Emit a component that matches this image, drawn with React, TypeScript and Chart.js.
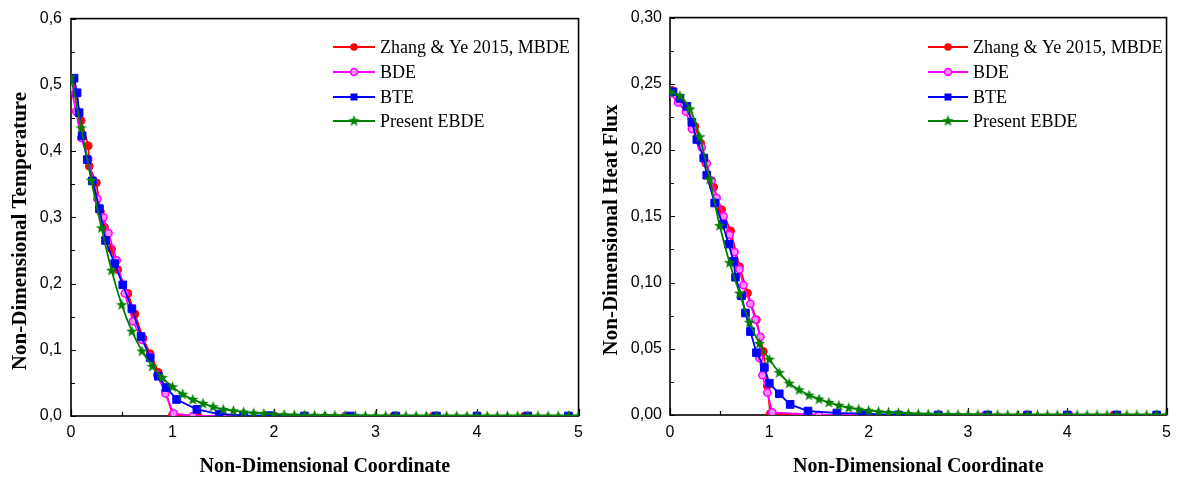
import React, { useEffect, useRef } from 'react';
import { Chart, registerables } from 'chart.js';

Chart.register(...registerables);

// ---------------- DATA ----------------
const SERIES_NAMES = ['Zhang & Ye 2015, MBDE', 'BDE', 'BTE', 'Present EBDE'];

const X_TICKS = [0, 1, 2, 3, 4, 5];
const X_MINOR = [0.5, 1.5, 2.5, 3.5, 4.5];

// Left panel: Non-Dimensional Temperature
const TEMP_Y_TICKS = [0, 0.1, 0.2, 0.3, 0.4, 0.5, 0.6];
const TEMP_Y_MINOR = [0.05, 0.15, 0.25, 0.35, 0.45, 0.55];

const tempMbdeX = [0.02, 0.1, 0.17, 0.18, 0.25, 0.29, 0.33, 0.4, 0.46, 0.56, 0.63, 0.71, 0.78, 0.86, 0.93, 1.0, 1.25, 1.5, 2.0, 2.3, 2.72, 3.18, 3.57, 4.0, 4.47, 4.91];
const tempMbdeY = [0.509, 0.446, 0.408, 0.377, 0.352, 0.309, 0.285, 0.252, 0.221, 0.185, 0.154, 0.117, 0.094, 0.066, 0.038, 0.002, 0, 0, 0, 0, 0, 0, 0, 0, 0, 0];

const tempBdeX = [0.0, 0.05, 0.1, 0.17, 0.22, 0.26, 0.32, 0.37, 0.45, 0.53, 0.61, 0.7, 0.78, 0.85, 0.93, 1.01, 1.2, 1.5, 2.0, 2.3, 2.7, 3.2, 3.6, 4.0, 4.5, 4.9];
const tempBdeY = [0.495, 0.46, 0.42, 0.388, 0.355, 0.328, 0.3, 0.276, 0.235, 0.185, 0.143, 0.115, 0.09, 0.062, 0.034, 0.004, 0, 0, 0, 0, 0, 0, 0, 0, 0, 0];

const tempBteX = [0.03, 0.06, 0.08, 0.11, 0.16, 0.21, 0.28, 0.34, 0.43, 0.51, 0.6, 0.69, 0.78, 0.86, 0.94, 1.04, 1.24, 1.46, 1.7, 1.95, 2.3, 2.75, 3.2, 3.6, 4.0, 4.5, 4.9];
const tempBteY = [0.51, 0.488, 0.458, 0.423, 0.387, 0.355, 0.313, 0.265, 0.23, 0.198, 0.162, 0.12, 0.088, 0.06, 0.043, 0.025, 0.01, 0.003, 0.001, 0.0005, 0, 0, 0, 0, 0, 0, 0];

const ebdeX = [0, 0.1, 0.2, 0.3, 0.4, 0.5, 0.6, 0.7, 0.8, 0.9, 1.0, 1.1, 1.2, 1.3, 1.4, 1.5, 1.6, 1.7, 1.8, 1.9, 2.0, 2.1, 2.2, 2.3, 2.4, 2.5, 2.6, 2.7, 2.8, 2.9, 3.0, 3.1, 3.2, 3.3, 3.4, 3.5, 3.6, 3.7, 3.8, 3.9, 4.0, 4.1, 4.2, 4.3, 4.4, 4.5, 4.6, 4.7, 4.8, 4.9, 5.0];
const tempEbdeY = [0.512, 0.435, 0.356, 0.284, 0.22, 0.168, 0.128, 0.098, 0.075, 0.058, 0.044, 0.033, 0.025, 0.019, 0.014, 0.01, 0.008, 0.006, 0.0045, 0.0035, 0.0025, 0.002, 0.0015, 0.0012, 0.001, 0.0008, 0.0006, 0.0005, 0.0004, 0.0003, 0.0002, 0.0002, 0.0001, 0.0001, 0.0001, 0, 0, 0, 0, 0, 0, 0, 0, 0, 0, 0, 0, 0, 0, 0, 0];

// Right panel: Non-Dimensional Heat Flux
const FLUX_Y_TICKS = [0, 0.05, 0.1, 0.15, 0.2, 0.25, 0.3];
const FLUX_Y_MINOR = [0.025, 0.075, 0.125, 0.175, 0.225, 0.275];

const fluxMbdeX = [0.02, 0.1, 0.17, 0.25, 0.31, 0.36, 0.44, 0.52, 0.61, 0.7, 0.78, 0.87, 0.94, 0.98, 1.01, 1.5, 2.0, 2.7, 3.2, 3.59, 4.0, 4.47, 4.9];
const fluxMbdeY = [0.245, 0.238, 0.232, 0.218, 0.205, 0.19, 0.172, 0.155, 0.139, 0.112, 0.092, 0.072, 0.048, 0.022, 0.001, 0, 0, 0, 0, 0, 0, 0, 0];

const fluxBdeX = [0.0, 0.08, 0.16, 0.22, 0.28, 0.32, 0.37, 0.42, 0.47, 0.54, 0.6, 0.65, 0.7, 0.74, 0.81, 0.86, 0.91, 0.9, 0.93, 0.98, 1.03, 1.5, 2.0, 2.71, 3.17, 3.6, 4.02, 4.5, 4.9];
const fluxBdeY = [0.243, 0.236, 0.229, 0.216, 0.208, 0.202, 0.19, 0.177, 0.164, 0.15, 0.136, 0.123, 0.11, 0.098, 0.084, 0.072, 0.059, 0.043, 0.03, 0.017, 0.002, 0, 0, 0, 0, 0, 0, 0, 0];

const fluxBteX = [0.03, 0.1, 0.17, 0.22, 0.27, 0.34, 0.37, 0.45, 0.53, 0.59, 0.64, 0.66, 0.72, 0.76, 0.81, 0.87, 0.95, 1.0, 1.1, 1.21, 1.39, 1.68, 1.94, 2.3, 2.7, 3.2, 3.6, 4.0, 4.5, 4.9];
const fluxBteY = [0.244, 0.239, 0.233, 0.221, 0.208, 0.194, 0.181, 0.16, 0.144, 0.129, 0.116, 0.104, 0.09, 0.077, 0.063, 0.047, 0.036, 0.024, 0.016, 0.008, 0.003, 0.0015, 0.001, 0, 0, 0, 0, 0, 0, 0];

const fluxEbdeY = [0.244, 0.241, 0.231, 0.21, 0.178, 0.143, 0.115, 0.092, 0.07, 0.054, 0.042, 0.032, 0.024, 0.019, 0.015, 0.012, 0.0095, 0.0072, 0.0055, 0.0043, 0.0033, 0.0025, 0.0019, 0.0015, 0.0011, 0.0008, 0.0006, 0.0005, 0.0004, 0.0003, 0.0002, 0.0002, 0.0001, 0.0001, 0, 0, 0, 0, 0, 0, 0, 0, 0, 0, 0, 0, 0, 0, 0, 0, 0];

// ---------------- STYLE ----------------
const RED = '#ff0000';
const MAGENTA = '#ff00ff';
const MAGENTA_FILL = '#ff88ff';
const BLUE = '#0000ff';
const GREEN = '#008000';
const SERIF = '"Liberation Serif", "Times New Roman", Times, serif';
const SANS = '"Liberation Sans", Arial, Helvetica, sans-serif';

function makeStar(color: string): HTMLCanvasElement {
  const c = document.createElement('canvas');
  c.width = 13;
  c.height = 13;
  const g = c.getContext('2d')!;
  const cx = 6.5, cy = 6.8, ro = 6.0, ri = 2.5;
  g.beginPath();
  for (let i = 0; i < 10; i++) {
    const r = i % 2 === 0 ? ro : ri;
    const a = -Math.PI / 2 + (i * Math.PI) / 5;
    const px = cx + r * Math.cos(a);
    const py = cy + r * Math.sin(a);
    if (i === 0) g.moveTo(px, py);
    else g.lineTo(px, py);
  }
  g.closePath();
  g.fillStyle = color;
  g.fill();
  return c;
}

const pts = (xs: number[], ys: number[]) => xs.map((x, i) => ({ x, y: ys[i] }));

type PanelCfg = {
  width: number;
  left: number;
  area: { top: number; right: number; yWidth: number; xHeight: number };
  yMax: number;
  yStep: number;
  yDecimals: number;
  yTicks: number[];
  yMinor: number[];
  yPad: number;
  xPad: number;
  yTitle: string;
  yTitleX: number;
  yTitleY: number;
  legend: { x0: number; x1: number; tx: number; rows: number[] };
  series: { x: number[]; y: number[] }[];
};

function PanelChart({ cfg }: { cfg: PanelCfg }) {
  const ref = useRef<HTMLCanvasElement>(null);
  useEffect(() => {
    const star = makeStar(GREEN);
    const [mb, bd, bt, eb] = cfg.series;

    const decor = {
      id: 'decor',
      beforeDatasetsDraw(chart: any) {
        const { ctx, chartArea: a, scales } = chart;
        const x = scales.x, y = scales.y;
        ctx.save();
        ctx.strokeStyle = '#000';
        ctx.lineWidth = 1.6;
        ctx.strokeRect(a.left, a.top, a.right - a.left, a.bottom - a.top);
        ctx.lineWidth = 1.2;
        ctx.beginPath();
        X_TICKS.forEach((v) => {
          const p = Math.round(x.getPixelForValue(v)) + 0.5;
          ctx.moveTo(p, a.bottom);
          ctx.lineTo(p, a.bottom - 7);
        });
        X_MINOR.forEach((v) => {
          const p = Math.round(x.getPixelForValue(v)) + 0.5;
          ctx.moveTo(p, a.bottom);
          ctx.lineTo(p, a.bottom - 4);
        });
        cfg.yTicks.forEach((v) => {
          const p = Math.round(y.getPixelForValue(v)) + 0.5;
          ctx.moveTo(a.left, p);
          ctx.lineTo(a.left + 5, p);
        });
        cfg.yMinor.forEach((v) => {
          const p = Math.round(y.getPixelForValue(v)) + 0.5;
          ctx.moveTo(a.left, p);
          ctx.lineTo(a.left + 4, p);
        });
        ctx.stroke();
        ctx.restore();
      },
      afterDraw(chart: any) {
        const { ctx, chartArea: a } = chart;
        ctx.save();
        // axis titles
        ctx.fillStyle = '#000';
        ctx.font = `bold 20px ${SERIF}`;
        ctx.textAlign = 'center';
        ctx.textBaseline = 'alphabetic';
        ctx.fillText('Non-Dimensional Coordinate', (a.left + a.right) / 2, 472);
        ctx.save();
        ctx.font = `bold 21px ${SERIF}`;
        ctx.translate(cfg.yTitleX, cfg.yTitleY);
        ctx.rotate(-Math.PI / 2);
        ctx.fillText(cfg.yTitle, 0, 0);
        ctx.restore();
        // legend
        const L = cfg.legend;
        const mid = (L.x0 + L.x1) / 2;
        const colors = [RED, MAGENTA, BLUE, GREEN];
        SERIES_NAMES.forEach((name, i) => {
          const yy = L.rows[i];
          ctx.strokeStyle = colors[i];
          ctx.lineWidth = 1.8;
          ctx.beginPath();
          ctx.moveTo(L.x0, yy);
          ctx.lineTo(L.x1, yy);
          ctx.stroke();
          if (i === 0) {
            ctx.fillStyle = RED;
            ctx.beginPath();
            ctx.arc(mid, yy, 3.8, 0, Math.PI * 2);
            ctx.fill();
          } else if (i === 1) {
            ctx.fillStyle = MAGENTA_FILL;
            ctx.strokeStyle = MAGENTA;
            ctx.lineWidth = 1.5;
            ctx.beginPath();
            ctx.arc(mid, yy, 3.5, 0, Math.PI * 2);
            ctx.fill();
            ctx.stroke();
          } else if (i === 2) {
            ctx.fillStyle = BLUE;
            ctx.fillRect(mid - 3.5, yy - 3.5, 7, 7);
          } else {
            ctx.drawImage(star, mid - 6.5, yy - 6.8);
          }
          ctx.fillStyle = '#000';
          ctx.font = `18px ${SERIF}`;
          ctx.textAlign = 'left';
          ctx.textBaseline = 'middle';
          ctx.fillText(name, L.tx, yy + 1);
        });
        ctx.restore();
      },
    };

    const chart = new Chart(ref.current!, {
      type: 'line',
      data: {
        datasets: [
          {
            label: SERIES_NAMES[0],
            data: pts(mb.x, mb.y),
            borderColor: RED,
            backgroundColor: RED,
            pointBackgroundColor: RED,
            pointBorderColor: RED,
            pointRadius: 3.9,
            pointBorderWidth: 1,
            borderWidth: 1.8,
            tension: 0,
            order: 3,
          },
          {
            label: SERIES_NAMES[1],
            data: pts(bd.x, bd.y),
            borderColor: MAGENTA,
            backgroundColor: MAGENTA,
            pointBackgroundColor: MAGENTA_FILL,
            pointBorderColor: MAGENTA,
            pointRadius: 3.6,
            pointBorderWidth: 1.5,
            borderWidth: 1.8,
            tension: 0,
            order: 2,
          },
          {
            label: SERIES_NAMES[2],
            data: pts(bt.x, bt.y),
            borderColor: BLUE,
            backgroundColor: BLUE,
            pointBackgroundColor: BLUE,
            pointBorderColor: BLUE,
            pointStyle: 'rect',
            pointRadius: 5.4,
            pointBorderWidth: 1,
            borderWidth: 1.8,
            tension: 0,
            order: 1,
          },
          {
            label: SERIES_NAMES[3],
            data: pts(eb.x, eb.y),
            borderColor: GREEN,
            backgroundColor: GREEN,
            pointStyle: star as any,
            pointRadius: 5,
            borderWidth: 1.8,
            cubicInterpolationMode: 'monotone',
            order: 0,
          },
        ] as any,
      },
      options: {
        animation: false,
        responsive: false,
        devicePixelRatio: 1,
        events: [],
        layout: { padding: { top: cfg.area.top, right: cfg.area.right, left: 0, bottom: 0 } },
        plugins: { legend: { display: false }, tooltip: { enabled: false } },
        scales: {
          x: {
            type: 'linear',
            min: 0,
            max: 5,
            afterFit: (s: any) => {
              s.height = cfg.area.xHeight;
            },
            grid: { display: false, drawTicks: false },
            border: { display: false },
            ticks: {
              stepSize: 1,
              padding: cfg.xPad,
              autoSkip: false,
              maxRotation: 0,
              color: '#000',
              font: { family: SANS, size: 16 },
              callback: (v: any) => String(v),
            },
          },
          y: {
            type: 'linear',
            min: 0,
            max: cfg.yMax,
            afterFit: (s: any) => {
              s.width = cfg.area.yWidth;
            },
            grid: { display: false, drawTicks: false },
            border: { display: false },
            ticks: {
              stepSize: cfg.yStep,
              padding: cfg.yPad,
              color: '#000',
              font: { family: SANS, size: 16 },
              callback: (v: any) => Number(v).toFixed(cfg.yDecimals).replace('.', ','),
            },
          },
        },
      } as any,
      plugins: [decor],
    });
    return () => chart.destroy();
  }, []);
  return (
    <canvas
      ref={ref}
      width={cfg.width}
      height={482}
      style={{ position: 'absolute', left: cfg.left, top: 0, width: cfg.width, height: 482 }}
    />
  );
}

const LEFT_CFG: PanelCfg = {
  width: 590,
  left: 0,
  area: { top: 14, right: 10, yWidth: 71, xHeight: 66 },
  yMax: 0.6,
  yStep: 0.1,
  yDecimals: 1,
  yTicks: TEMP_Y_TICKS,
  yMinor: TEMP_Y_MINOR,
  yPad: 9,
  xPad: 7,
  yTitle: 'Non-Dimensional Temperature',
  yTitleX: 26,
  yTitleY: 231,
  legend: { x0: 333, x1: 375, tx: 380, rows: [47, 72, 97, 121] },
  series: [
    { x: tempMbdeX, y: tempMbdeY },
    { x: tempBdeX, y: tempBdeY },
    { x: tempBteX, y: tempBteY },
    { x: ebdeX, y: tempEbdeY },
  ],
};

const RIGHT_CFG: PanelCfg = {
  width: 589,
  left: 590,
  area: { top: 17, right: 12, yWidth: 80, xHeight: 67 },
  yMax: 0.3,
  yStep: 0.05,
  yDecimals: 2,
  yTicks: FLUX_Y_TICKS,
  yMinor: FLUX_Y_MINOR,
  yPad: 8,
  xPad: 8,
  yTitle: 'Non-Dimensional Heat Flux',
  yTitleX: 27,
  yTitleY: 230,
  legend: { x0: 338, x1: 378, tx: 383, rows: [47, 72, 97, 121] },
  series: [
    { x: fluxMbdeX, y: fluxMbdeY },
    { x: fluxBdeX, y: fluxBdeY },
    { x: fluxBteX, y: fluxBteY },
    { x: ebdeX, y: fluxEbdeY },
  ],
};

export default function App() {
  return (
    <div style={{ position: 'fixed', left: 0, top: 0, width: 1179, height: 482, background: '#fff' }}>
      <PanelChart cfg={LEFT_CFG} />
      <PanelChart cfg={RIGHT_CFG} />
    </div>
  );
}
